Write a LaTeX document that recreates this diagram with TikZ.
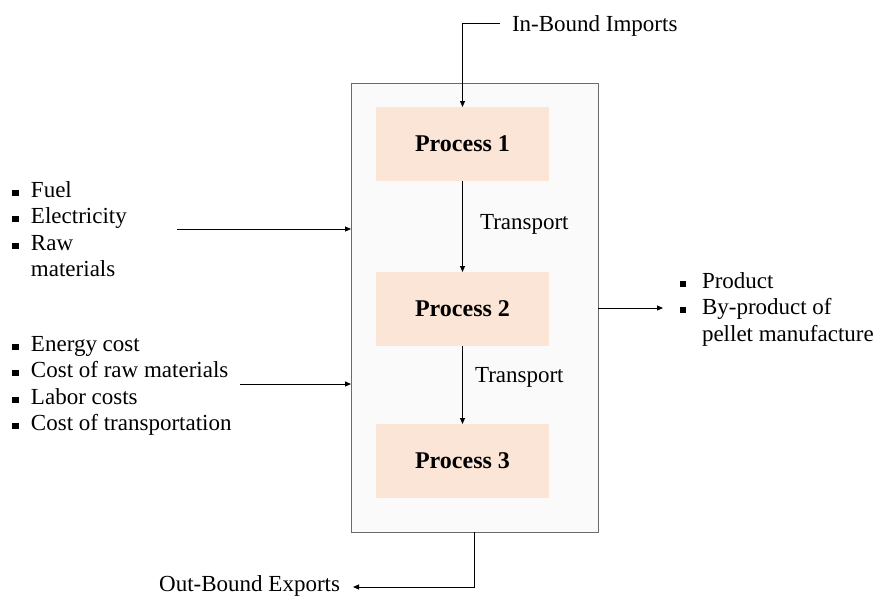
\documentclass[tikz,border=0pt]{standalone}
\usepackage{fontspec}
\setmainfont{Liberation Serif}
\usetikzlibrary{arrows.meta}
\definecolor{peach}{HTML}{FBE5D6}
\definecolor{panel}{HTML}{FAFAFA}
\definecolor{edge}{HTML}{6A6A6A}
\newcommand\sqb{\rule[1.5pt]{6pt}{6pt}}
\begin{document}
\begin{tikzpicture}[x=1pt,y=-1pt,
  every node/.style={inner sep=0pt, outer sep=0pt},
  txt/.style={font=\fontsize{23}{26.5}\selectfont},
  proc/.style={fill=peach, minimum width=173pt, minimum height=74pt,
    font=\fontsize{24}{28}\selectfont\bfseries},
  conn/.style={line width=0.9pt, -{Triangle[length=6pt,width=5pt]}},
  plain/.style={line width=0.9pt}]
\useasboundingbox (0,0) rectangle (873,598);
% outer panel
\node[draw=edge, line width=0.9pt, fill=panel, minimum width=247pt, minimum height=449pt] (panel) at (474.5,307.5) {};
% processes
\node[proc] (p1) at (462.5,144) {Process 1};
\node[proc] (p2) at (462.5,309) {Process 2};
\node[proc] (p3) at (462.5,461) {Process 3};
\draw[conn] (p1.south) -- (p2.north);
\draw[conn] (p2.south) -- (p3.north);
\node[txt, anchor=west] (t1) at (480,224) {Transport};
\node[txt, anchor=west] (t2) at (475,377) {Transport};
% in-bound
\node[txt, anchor=base west] (inb) at (512,31) {In-Bound Imports};
\coordinate (inbs) at (500,23);
\draw[conn] (inbs) -| (p1.north);
% out-bound
\node[txt, anchor=base east] (outb) at (340,591.5) {Out-Bound Exports};
\coordinate (outbe) at (353,587);
\draw[conn] (panel.south) |- (outbe);
% left lists
\node[txt, anchor=base west] (l1) at (12.5,197) {\begin{tabular}[t]{@{}l@{\hspace{12.5pt}}l@{}}
\sqb & Fuel\\
\sqb & Electricity\\
\sqb & Raw\\
 & materials
\end{tabular}};
\node[txt, anchor=base west] (l2) at (12.5,351) {\begin{tabular}[t]{@{}l@{\hspace{12.5pt}}l@{}}
\sqb & Energy cost\\
\sqb & Cost of raw materials\\
\sqb & Labor costs\\
\sqb & Cost of transportation
\end{tabular}};
\coordinate (a1) at (177,229);
\coordinate (a2) at (240,384);
\draw[conn] (a1) -- (a1 -| panel.west);
\draw[conn] (a2) -- (a2 -| panel.west);
% right list
\node[txt, anchor=base west] (r1) at (680,288) {\begin{tabular}[t]{@{}l@{\hspace{16pt}}l@{}}
\sqb & Product\\
\sqb & By-product of\\
 & pellet manufacture
\end{tabular}};
\coordinate (r1t) at (663,308);
\draw[conn] (panel.east |- r1t) -- (r1t);
\end{tikzpicture}
\end{document}
